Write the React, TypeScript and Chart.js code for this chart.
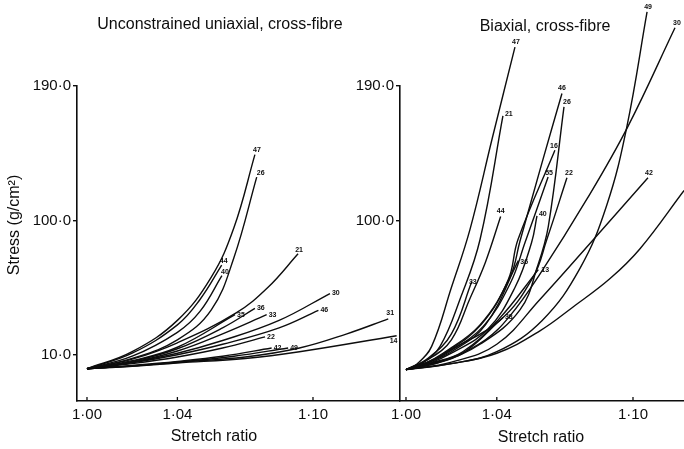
import React, { useEffect, useRef } from 'react';
import { Chart, registerables } from 'chart.js';
Chart.register(...registerables);

// Tick values
const stretchTicks = [1.0, 1.04, 1.1];
const stressTicksUniaxial = [10, 100, 190];
const stressTicksBiaxial = [100, 190];

// Unconstrained uniaxial, cross-fibre: [stretch ratio, stress g/cm²]
const uni47 = [[1.0, 0.6], [1.02, 12], [1.04, 33], [1.055, 62], [1.065, 95], [1.0743, 144]];
const uni26 = [[1.0, 0.6], [1.02, 7.5], [1.04, 20], [1.055, 40], [1.065, 75], [1.0751, 129]];
const uni44 = [[1.0, 0.6], [1.02, 11], [1.04, 30], [1.05, 47], [1.0596, 70]];
const uni40 = [[1.0, 0.6], [1.02, 9], [1.04, 25], [1.05, 39], [1.0597, 63]];
const uni21 = [[1.0, 0.6], [1.02, 7], [1.04, 18], [1.066, 38], [1.08, 55], [1.0934, 77.6]];
const uni35 = [[1.0, 0.6], [1.02, 6], [1.04, 15], [1.0655, 36.8]];
const uni36 = [[1.0, 0.6], [1.02, 5.5], [1.04, 14], [1.06, 28], [1.0743, 41]];
const uni33 = [[1.0, 0.6], [1.02, 5], [1.04, 12.5], [1.06, 24], [1.0795, 36.8]];
const uni30 = [[1.0, 0.6], [1.02, 5], [1.04, 11], [1.06, 19.5], [1.085, 33], [1.1075, 51]];
const uni46 = [[1.0, 0.6], [1.02, 4.6], [1.04, 10], [1.06, 17], [1.085, 28], [1.1024, 39.7]];
const uni22 = [[1.0, 0.6], [1.02, 4], [1.04, 8.5], [1.06, 14.5], [1.0788, 22]];
const uni42 = [[1.0, 0.6], [1.02, 2.8], [1.04, 5.5], [1.06, 9], [1.0817, 14.5]];
const uni49 = [[1.0, 0.6], [1.02, 2.5], [1.04, 5], [1.065, 9], [1.089, 14.5]];
const uni31 = [[1.0, 0.6], [1.02, 2.5], [1.04, 5], [1.07, 8.5], [1.094, 14.5], [1.115, 24], [1.1333, 34]];
const uni14 = [[1.0, 0.6], [1.02, 2.3], [1.04, 4.5], [1.07, 7.5], [1.094, 12], [1.137, 22.7]];

// Biaxial, cross-fibre: [stretch ratio, stress g/cm²]
const bi47 = [[1.0, 0], [1.005, 4], [1.0113, 15.6], [1.02, 55], [1.0282, 94], [1.038, 155], [1.048, 216]];
const bi21 = [[1.0, 0], [1.007, 4], [1.015, 15.6], [1.024, 48], [1.0326, 87], [1.0427, 170]];
const bi44 = [[1.0, 0], [1.01, 7], [1.02, 20], [1.028, 47], [1.035, 72], [1.0417, 102.6]];
const bi33 = [[1.0, 0], [1.01, 8], [1.02, 24], [1.029, 59]];
const bi46 = [[1.0, 0], [1.008, 4], [1.0163, 11], [1.0326, 30], [1.0458, 62], [1.0502, 86], [1.06, 139], [1.0687, 185]];
const bi26 = [[1.0, 0], [1.015, 5], [1.0326, 17], [1.0502, 40], [1.0581, 70], [1.0627, 96], [1.0696, 176]];
const bi16 = [[1.0, 0], [1.008, 4], [1.017, 11], [1.033, 30], [1.045, 60], [1.0493, 87], [1.0656, 147]];
const bi55 = [[1.0, 0], [1.009, 4], [1.018, 11], [1.034, 29], [1.046, 58], [1.0524, 85], [1.0626, 129]];
const bi40 = [[1.0, 0], [1.01, 4], [1.02, 11], [1.036, 27], [1.048, 55], [1.0553, 85], [1.0577, 103]];
const bi22 = [[1.0, 0], [1.01, 5], [1.0194, 13], [1.0414, 33], [1.056, 62], [1.062, 87], [1.0709, 128.5]];
const bi36 = [[1.0, 0], [1.01, 5], [1.02, 12], [1.035, 30], [1.0495, 73]];
const bi13 = [[1.0, 0], [1.01, 4], [1.025, 12], [1.041, 34], [1.0583, 67]];
const bi38 = [[1.0, 0], [1.01, 3], [1.025, 11], [1.0427, 35]];
const bi30 = [[1.0, 0], [1.02, 8], [1.035, 20], [1.0458, 36], [1.059, 64], [1.08, 115], [1.0978, 163], [1.1185, 229]];
const bi49 = [[1.0, 0], [1.02, 4], [1.04, 12], [1.06, 33], [1.0767, 68], [1.0884, 110], [1.0972, 162], [1.1062, 239.6]];
const bi42 = [[1.0, 0], [1.02, 5], [1.04, 17], [1.059, 47], [1.0825, 87], [1.1066, 128.5]];
const biUnlabelled = [[1.0, 0], [1.02, 4], [1.04, 11], [1.059, 26], [1.0736, 42], [1.0899, 61], [1.1031, 81], [1.1225, 120]];

const uniaxialCurves: [string, number[][]][] = [
  ['47', uni47], ['26', uni26], ['44', uni44], ['40', uni40], ['21', uni21], ['35', uni35],
  ['36', uni36], ['33', uni33], ['30', uni30], ['46', uni46], ['22', uni22], ['42', uni42],
  ['49', uni49], ['31', uni31], ['14', uni14],
];
const biaxialCurves: [string, number[][]][] = [
  ['47', bi47], ['21', bi21], ['44', bi44], ['33', bi33], ['46', bi46], ['26', bi26],
  ['16', bi16], ['55', bi55], ['40', bi40], ['22', bi22], ['36', bi36], ['13', bi13],
  ['38', bi38], ['30', bi30], ['49', bi49], ['42', bi42], ['', biUnlabelled],
];

// label placement (style, not data)
const uniLabelNudge: Record<string, [number, number, CanvasTextAlign]> = {
  '47': [2, -5, 'center'], '26': [4, -4, 'center'], '44': [2, -4, 'center'], '40': [3, -4, 'center'],
  '21': [1, -4, 'center'], '31': [2, -6, 'center'], '14': [-3, 5, 'center'],
};
const biLabelNudge: Record<string, [number, number, CanvasTextAlign]> = {
  '47': [1, -5, 'center'], '21': [2, -2, 'left'], '46': [0, -5, 'center'], '26': [3, -5, 'center'],
  '16': [-1, -4, 'center'], '55': [1, -4, 'center'], '22': [2, -5, 'center'], '44': [0, -5, 'center'],
  '40': [2, -2, 'left'], '42': [1, -5, 'center'], '49': [1, -5, 'center'], '30': [2, -5, 'center'],
  '36': [2, 1, 'left'], '13': [3, 0, 'left'], '33': [1, 0, 'center'], '38': [2, 0, 'left'],
};

const FONT = '"Liberation Sans", Arial, Helvetica, sans-serif';
const INK = '#0d0d0d';
const fmt = (v: number, d: number) => v.toFixed(d).replace('.', '·');

type Decor = {
  title: string; titlePos: [number, number];
  xTitle: string; xTitlePos: [number, number];
  yTitle?: string; yTitlePos?: [number, number];
  nudge: Record<string, [number, number, CanvasTextAlign]>;
};

function makeDecor(cfg: Decor) {
  return {
    id: 'decor',
    afterDraw(chart: any) {
      const ctx = chart.ctx as CanvasRenderingContext2D;
      const xs = chart.scales.x, ys = chart.scales.y;
      ctx.save();
      ctx.fillStyle = INK;
      ctx.strokeStyle = INK;
      ctx.font = `16px ${FONT}`;
      ctx.textAlign = 'center';
      ctx.textBaseline = 'middle';
      ctx.fillText(cfg.title, cfg.titlePos[0], cfg.titlePos[1]);
      ctx.fillText(cfg.xTitle, cfg.xTitlePos[0], cfg.xTitlePos[1]);
      if (cfg.yTitle && cfg.yTitlePos) {
        ctx.save();
        ctx.translate(cfg.yTitlePos[0], cfg.yTitlePos[1]);
        ctx.rotate(-Math.PI / 2);
        ctx.fillText(cfg.yTitle, 0, 0);
        ctx.restore();
      }
      ctx.lineWidth = 1.3;
      for (const v of stretchTicks) {
        const px = xs.getPixelForValue(v);
        ctx.beginPath();
        ctx.moveTo(px, xs.top);
        ctx.lineTo(px, xs.top - 4);
        ctx.stroke();
      }
      ctx.font = `bold 7px ${FONT}`;
      chart.data.datasets.forEach((ds: any) => {
        if (!ds.label) return;
        const last = ds.data[ds.data.length - 1];
        const px = xs.getPixelForValue(last.x);
        const py = ys.getPixelForValue(last.y);
        const [dx, dy, align] = cfg.nudge[ds.label] ?? [2, 0, 'left'];
        ctx.textAlign = align;
        ctx.fillText(ds.label, px + dx, py + dy);
      });
      ctx.restore();
    },
  };
}

function buildChart(
  canvas: HTMLCanvasElement,
  curves: [string, number[][]][],
  xMin: number, xMax: number,
  yTicks: number[], yAxisWidth: number,
  decor: Decor,
) {
  return new Chart(canvas, {
    type: 'line',
    data: {
      datasets: curves.map(([name, pts]) => ({
        label: name,
        data: pts.map(([x, y]) => ({ x, y })),
        borderColor: INK,
        borderWidth: 1.4,
        pointRadius: 0,
        fill: false,
        tension: 0.4,
        clip: false as any,
      })),
    },
    options: {
      responsive: false,
      animation: false,
      devicePixelRatio: 1,
      layout: { padding: { top: 86, left: 0, right: 0, bottom: 0 } },
      plugins: { legend: { display: false }, tooltip: { enabled: false } },
      scales: {
        x: {
          type: 'linear',
          min: xMin,
          max: xMax,
          afterBuildTicks: (s: any) => { s.ticks = stretchTicks.map((v) => ({ value: v })); },
          afterFit: (s: any) => { s.height = 48; },
          grid: { display: false, drawTicks: false },
          border: { display: true, color: INK, width: 1.6 },
          ticks: {
            autoSkip: false, maxRotation: 0, padding: 5, color: INK,
            font: { family: FONT, size: 15 },
            callback: (v: any) => fmt(Number(v), 2),
          },
        },
        y: {
          type: 'linear',
          min: -21,
          max: 190,
          afterBuildTicks: (s: any) => { s.ticks = yTicks.map((v) => ({ value: v })); },
          afterFit: (s: any) => { s.width = yAxisWidth; },
          grid: { display: true, drawOnChartArea: false, drawTicks: true, tickLength: 4, color: INK, lineWidth: 1.4 },
          border: { display: true, color: INK, width: 1.6 },
          ticks: {
            autoSkip: false, padding: 2, color: INK,
            font: { family: FONT, size: 15 },
            callback: (v: any) => fmt(Number(v), 1),
          },
        },
      },
    },
    plugins: [makeDecor(decor)],
  } as any);
}

export default function App() {
  const leftRef = useRef<HTMLCanvasElement>(null);
  const rightRef = useRef<HTMLCanvasElement>(null);

  useEffect(() => {
    const left = buildChart(
      leftRef.current!, uniaxialCurves, 0.99558, 1.1385, stressTicksUniaxial, 77,
      {
        title: 'Unconstrained uniaxial, cross-fibre', titlePos: [220, 25],
        xTitle: 'Stretch ratio', xTitlePos: [214, 437],
        yTitle: 'Stress (g/cm²)', yTitlePos: [15, 225],
        nudge: uniLabelNudge,
      },
    );
    const right = buildChart(
      rightRef.current!, biaxialCurves, 0.99736, 1.12247, stressTicksBiaxial, 60,
      {
        title: 'Biaxial, cross-fibre', titlePos: [205, 27],
        xTitle: 'Stretch ratio', xTitlePos: [201, 438],
        nudge: biLabelNudge,
      },
    );
    return () => { left.destroy(); right.destroy(); };
  }, []);

  return (
    <div style={{ position: 'absolute', left: 0, top: 0, width: 684, height: 449, background: '#fff', overflow: 'hidden' }}>
      <canvas ref={leftRef} width={400} height={449} style={{ position: 'absolute', left: 0, top: 0, width: 400, height: 449 }} />
      <canvas ref={rightRef} width={344} height={449} style={{ position: 'absolute', left: 340, top: 0, width: 344, height: 449 }} />
    </div>
  );
}
